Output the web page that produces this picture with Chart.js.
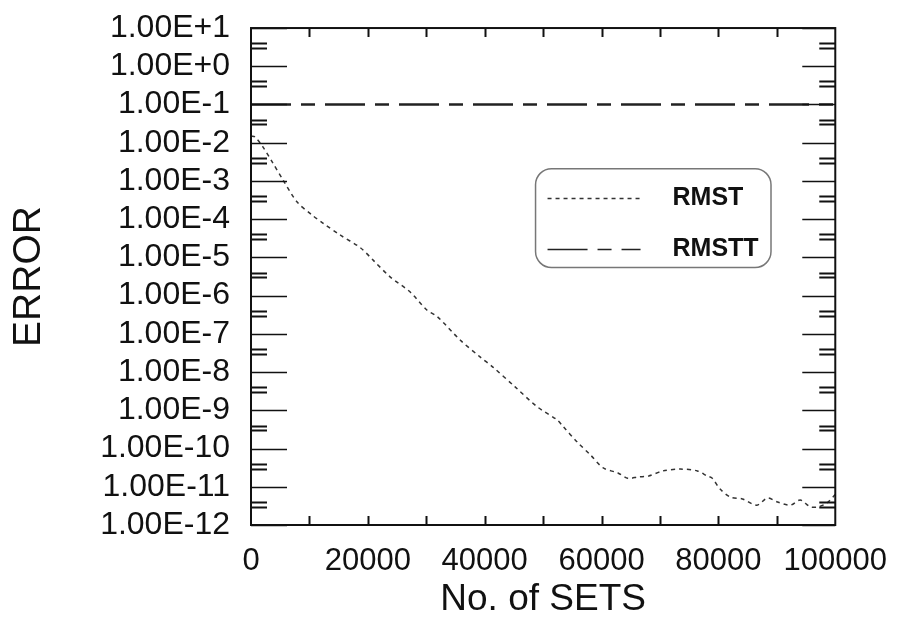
<!DOCTYPE html>
<html><head><meta charset="utf-8">
<script src="https://cdn.jsdelivr.net/npm/chart.js@4.4.1/dist/chart.umd.min.js"></script>
<style>html,body{margin:0;padding:0;background:#fff;}</style>
</head><body>
<canvas id="c" width="897" height="618"></canvas>
<script>
// ---- data ----
const rmstX = [0, 700, 2000, 3600, 5500, 7900, 10400, 12300, 15200, 18700, 20900, 23800, 27200, 30100, 31900, 35800, 39200, 41400, 45200, 49000, 52400, 53400, 55800, 58100, 60300, 62800, 64500, 66300, 68000, 70500, 73500, 76400, 78100, 78900, 80300, 82000, 84100, 86600, 88400, 90100, 92300, 94000, 95700, 97100, 98600, 100000];
const rmstY = [1.5e-2, 1.41e-2, 7.9e-3, 3.2e-3, 1.05e-3, 2.8e-4, 1.3e-4, 7.9e-5, 3.9e-5, 1.8e-5, 8.5e-6, 3.1e-6, 1.26e-6, 4.2e-7, 2.8e-7, 6.9e-8, 2.5e-8, 1.35e-8, 4.1e-9, 1.23e-9, 5.6e-10, 3.8e-10, 1.5e-10, 6.8e-11, 3.1e-11, 2.3e-11, 1.66e-11, 1.82e-11, 1.9e-11, 2.6e-11, 2.9e-11, 2.6e-11, 1.9e-11, 1.7e-11, 8.7e-12, 5.4e-12, 4.8e-12, 3.3e-12, 5.1e-12, 4.0e-12, 3.3e-12, 4.5e-12, 3.0e-12, 3.0e-12, 3.8e-12, 6.3e-12];
const rmsttX = [0, 100000];
const rmsttY = [0.1, 0.1];
const seriesNames = ['RMST', 'RMSTT'];
const xTickValues = [0, 20000, 40000, 60000, 80000, 100000];
const yTickValues = [1e-12, 1e-11, 1e-10, 1e-9, 1e-8, 1e-7, 1e-6, 1e-5, 1e-4, 1e-3, 1e-2, 1e-1, 1e0, 1e1];
const yTickLabels = ['1.00E-12', '1.00E-11', '1.00E-10', '1.00E-9', '1.00E-8', '1.00E-7', '1.00E-6', '1.00E-5', '1.00E-4', '1.00E-3', '1.00E-2', '1.00E-1', '1.00E+0', '1.00E+1'];
const xTitle = 'No. of SETS';
const yTitle = 'ERROR';

const FONT = "'Liberation Sans', Arial, sans-serif";
const INK = '#111';

function yLabel(v) {
  for (let i = 0; i < yTickValues.length; i++) {
    if (Math.abs(Math.log10(v) - Math.log10(yTickValues[i])) < 1e-6) return yTickLabels[i];
  }
  return '';
}

const framePlugin = {
  id: 'frame',
  afterDraw(chart) {
    const {ctx, chartArea: a, scales: {x, y}} = chart;
    ctx.save();
    ctx.strokeStyle = INK;
    for (let i = 0; i < yTickValues.length; i++) {
      const d = yTickValues[i];
      const py = Math.round(y.getPixelForValue(d)) + 0.5;
      ctx.lineWidth = 1.5;
      ctx.beginPath();
      ctx.moveTo(a.left, py); ctx.lineTo(a.left + 36, py);
      ctx.moveTo(a.right, py); ctx.lineTo(a.right - 33, py);
      ctx.stroke();
      ctx.lineWidth = 2;
      if (i < yTickValues.length - 1) {
        [3, 4].forEach(m => {
          const pm = Math.round(y.getPixelForValue(d * m)) + 0.5;
          ctx.beginPath();
          ctx.moveTo(a.left, pm); ctx.lineTo(a.left + 16, pm);
          ctx.moveTo(a.right, pm); ctx.lineTo(a.right - 16, pm);
          ctx.stroke();
        });
      }
    }
    ctx.lineWidth = 2;
    for (let v = 10000; v < 100000; v += 10000) {
      const px = Math.round(x.getPixelForValue(v)) + 0.5;
      ctx.beginPath();
      ctx.moveTo(px, a.bottom); ctx.lineTo(px, a.bottom - 9);
      ctx.moveTo(px, a.top); ctx.lineTo(px, a.top + 9);
      ctx.stroke();
    }
    ctx.strokeRect(a.left, a.top, a.right - a.left, a.bottom - a.top);
    ctx.restore();
  }
};

const legendPlugin = {
  id: 'boxLegend',
  afterDraw(chart) {
    const {ctx, chartArea: a} = chart;
    const w = a.right - a.left, h = a.bottom - a.top;
    const L = a.left + 0.487 * w, R = a.left + 0.89 * w;
    const T = a.top + 0.283 * h, B = a.top + 0.482 * h;
    const r = 16;
    ctx.save();
    ctx.fillStyle = '#fff';
    ctx.strokeStyle = '#777';
    ctx.lineWidth = 1.5;
    ctx.beginPath();
    ctx.roundRect(L, T, R - L, B - T, r);
    ctx.fill();
    ctx.stroke();
    const rows = [T + 0.30 * (B - T), T + 0.81 * (B - T)];
    chart.data.datasets.forEach((ds, i) => {
      const yy = Math.round(rows[i]) + 0.5;
      ctx.strokeStyle = ds.borderColor;
      ctx.lineWidth = 1.5;
      ctx.setLineDash(ds.borderDash || []);
      ctx.beginPath();
      ctx.moveTo(L + 12, yy); ctx.lineTo(L + 105, yy);
      ctx.stroke();
      ctx.setLineDash([]);
      ctx.fillStyle = INK;
      ctx.font = "bold 25px " + FONT;
      ctx.textBaseline = 'middle';
      ctx.textAlign = 'left';
      ctx.fillText(ds.label, L + 137, yy);
    });
    ctx.restore();
  }
};

new Chart(document.getElementById('c'), {
  type: 'line',
  data: {
    datasets: [
      {
        label: seriesNames[0],
        data: rmstX.map((v, i) => ({x: v, y: rmstY[i]})),
        borderColor: '#333',
        borderWidth: 1.5,
        borderDash: [4, 4],
        pointRadius: 0,
        tension: 0.3,
        fill: false
      },
      {
        label: seriesNames[1],
        data: rmsttX.map((v, i) => ({x: v, y: rmsttY[i]})),
        borderColor: '#222',
        borderWidth: 2.5,
        borderDash: [40, 10, 14, 10],
        pointRadius: 0,
        fill: false
      }
    ]
  },
  options: {
    responsive: false,
    animation: false,
    devicePixelRatio: 1,
    layout: {padding: {top: 0, right: 0, left: 0, bottom: 0}},
    plugins: {legend: {display: false}, tooltip: {enabled: false}},
    scales: {
      x: {
        type: 'linear',
        min: 0, max: 100000,
        afterBuildTicks: s => { s.ticks = xTickValues.map(v => ({value: v})); },
        ticks: {
          color: INK, font: {family: FONT, size: 31, lineHeight: 1.68}, padding: 10,
          maxRotation: 0, autoSkip: false,
          callback: v => String(v)
        },
        grid: {display: false, drawTicks: false},
        border: {display: false},
        title: {display: true, text: xTitle, color: INK, font: {family: FONT, size: 37, lineHeight: 1}, padding: {top: 0, bottom: 0}},
        afterFit: s => { s.height = 93; }
      },
      y: {
        type: 'logarithmic',
        min: 1e-12, max: 10,
        afterBuildTicks: s => { s.ticks = yTickValues.map(v => ({value: v})); },
        ticks: {
          color: INK, font: {family: FONT, size: 32, lineHeight: 0.44}, padding: 21,
          autoSkip: false,
          callback: v => yLabel(v)
        },
        grid: {display: false, drawTicks: false},
        border: {display: false},
        title: {display: true, text: yTitle, color: INK, font: {family: FONT, size: 39, lineHeight: 1}, padding: {top: 10, bottom: 0}},
        afterFit: s => { s.width = 251; }
      }
    }
  },
  plugins: [framePlugin, legendPlugin]
});
</script>
</body></html>
